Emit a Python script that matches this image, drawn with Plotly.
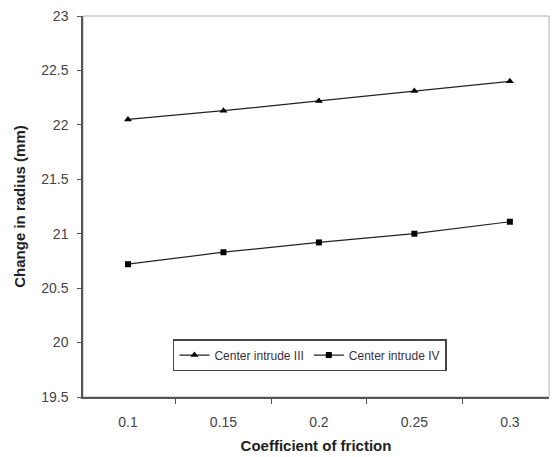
import plotly.graph_objects as go

categories = ["0.1", "0.15", "0.2", "0.25", "0.3"]
intrude_iii = [22.05, 22.13, 22.22, 22.31, 22.40]
intrude_iv = [20.72, 20.83, 20.92, 21.00, 21.11]
y_ticks = [19.5, 20, 20.5, 21, 21.5, 22, 22.5, 23]
y_labels = ["19.5", "20", "20.5", "21", "21.5", "22", "22.5", "23"]

fig = go.Figure()
fig.add_trace(go.Scatter(
    x=categories, y=intrude_iii, name="Center intrude III", mode="lines+markers",
    line=dict(color="#222222", width=1.2),
    marker=dict(symbol="triangle-up", size=7, color="black"),
))
fig.add_trace(go.Scatter(
    x=categories, y=intrude_iv, name="Center intrude IV", mode="lines+markers",
    line=dict(color="#222222", width=1.2),
    marker=dict(symbol="square", size=6, color="black"),
))

fig.add_shape(type="rect", xref="x domain", yref="y domain", x0=0, x1=1, y0=0, y1=1,
              line=dict(color="#b0b0b0", width=1), layer="below")

fig.update_layout(
    width=555, height=457,
    margin=dict(l=83, r=6, t=16, b=60),
    paper_bgcolor="white", plot_bgcolor="white",
    font=dict(family="Liberation Sans, Arial, sans-serif", color="#333333", size=12),
    showlegend=True,
    legend=dict(
        orientation="h", x=0.487, y=0.11, xanchor="center", yanchor="middle",
        bordercolor="#444444", borderwidth=1.5, bgcolor="white",
        font=dict(size=12, color="#3a3040"), itemwidth=30, tracegroupgap=0,
    ),
    xaxis=dict(
        type="category", range=[-0.471, 4.41], tickson="boundaries",
        ticks="outside", ticklen=5, tickcolor="#555555",
        showline=True, linecolor="#555555", linewidth=1.5,
        showgrid=False, zeroline=False, automargin=False,
        tickfont=dict(size=14, color="#444444"), ticklabelstandoff=11,
        title=dict(text="<b>Coefficient of friction</b>", font=dict(size=15, color="#222222"), standoff=12),
    ),
    yaxis=dict(
        range=[19.5, 23], tickvals=y_ticks, ticktext=y_labels,
        ticks="outside", ticklen=4, tickcolor="#555555",
        showline=True, linecolor="#555555", linewidth=1.5,
        showgrid=False, zeroline=False, automargin=False,
        tickfont=dict(size=14, color="#444444"), ticklabelstandoff=6,
        title=dict(text="<b>Change in radius (mm)</b>", font=dict(size=15, color="#222222"), standoff=12),
    ),
)

fig.write_html("out.html", config={"displayModeBar": False},
               post_script="document.body.style.margin='0';")
